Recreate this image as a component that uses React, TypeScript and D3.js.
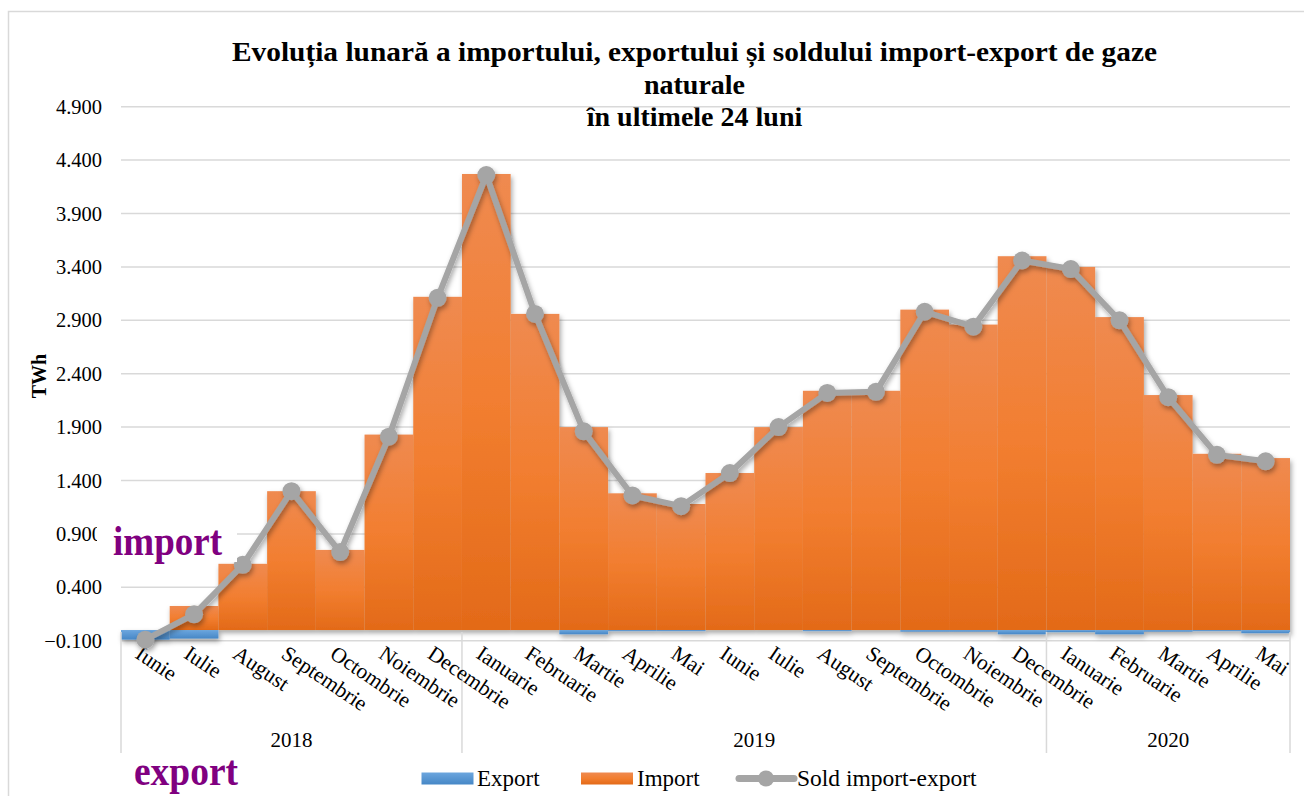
import * as d3 from 'd3';

const width = 1304;
const height = 796;

const months = [
  'Iunie', 'Iulie', 'August', 'Septembrie', 'Octombrie', 'Noiembrie', 'Decembrie',
  'Ianuarie', 'Februarie', 'Martie', 'Aprilie', 'Mai', 'Iunie', 'Iulie', 'August',
  'Septembrie', 'Octombrie', 'Noiembrie', 'Decembrie',
  'Ianuarie', 'Februarie', 'Martie', 'Aprilie', 'Mai',
];
const years = ['2018', '2019', '2020'];
const monthsPerYear = [7, 12, 5];

const importValues = [
  0.0, 0.225, 0.62, 1.3, 0.75, 1.83, 3.12, 4.27, 2.96, 1.9, 1.28, 1.18,
  1.47, 1.9, 2.24, 2.24, 3.0, 2.86, 3.5, 3.4, 2.93, 2.2, 1.65, 1.61,
];
const exportValues = [
  -0.09, -0.08, 0, 0, 0, 0, 0, 0, 0, -0.04, -0.01, -0.01,
  0, 0, -0.01, 0, -0.015, -0.015, -0.04, -0.02, -0.04, -0.015, -0.01, -0.03,
];
const soldValues = [
  -0.09, 0.147, 0.61, 1.3, 0.73, 1.81, 3.11, 4.26, 2.96, 1.86, 1.26, 1.16,
  1.47, 1.9, 2.22, 2.23, 2.98, 2.84, 3.46, 3.38, 2.9, 2.18, 1.64, 1.58,
];
const yTicks = [-0.1, 0.4, 0.9, 1.4, 1.9, 2.4, 2.9, 3.4, 3.9, 4.4, 4.9];

const titleLines = [
  'Evoluția lunară a importului, exportului și soldului import-export de gaze',
  'naturale',
  'în ultimele 24 luni',
];

const plotLeft = 121;
const plotRight = 1290;
const serif = '"Liberation Serif", "Times New Roman", serif';
const fmt = d3.format('.3f');

export default function App() {
  const idx = months.map((_, i) => i);
  const x = d3.scaleBand<number>().domain(idx).range([plotLeft, plotRight]).padding(0);
  const y = d3.scaleLinear([-0.1, 4.9], [640.7, 106.7]);
  const cx = (i: number) => (x(i) ?? 0) + x.bandwidth() / 2;
  const line = d3.line<number>((_, i) => cx(i), (d) => y(d));

  // year group boundaries
  const bounds: number[] = [0];
  monthsPerYear.forEach((n, i) => bounds.push(bounds[i] + n));
  const bx = (k: number) => (k >= months.length ? plotRight : x(k) ?? 0);

  return (
    <svg width={width} height={height} style={{ position: 'absolute', left: 0, top: 0 }} fontFamily={serif}>
      <defs>
        <linearGradient id="imp" x1="0" y1="0" x2="0" y2="1">
          <stop offset="0" stopColor="#EF8A50" />
          <stop offset="0.5" stopColor="#F27E30" />
          <stop offset="1" stopColor="#E36A18" />
        </linearGradient>
        <linearGradient id="exp" x1="0" y1="0" x2="0" y2="1">
          <stop offset="0" stopColor="#6CA6DE" />
          <stop offset="1" stopColor="#4687C6" />
        </linearGradient>
        <filter id="shadow" x="-10%" y="-10%" width="120%" height="130%">
          <feDropShadow dx="1.5" dy="3" stdDeviation="2.5" floodColor="#000" floodOpacity="0.35" />
        </filter>
      </defs>

      <rect x={8.5} y={11.5} width={1320} height={820} fill="#fff" stroke="#d9d9d9" strokeWidth={1.5} />

      {titleLines.map((t, i) => (
        <text
          key={i}
          x={694.5}
          y={61 + i * 32.5}
          textAnchor="middle"
          fontSize={28}
          fontWeight="bold"
          fill="#000"
          textLength={i === 0 ? 925 : undefined}
          lengthAdjust={i === 0 ? 'spacingAndGlyphs' : undefined}
        >
          {t}
        </text>
      ))}

      {/* gridlines */}
      {yTicks.map((t) => (
        <line key={t} x1={plotLeft} x2={plotRight} y1={y(t)} y2={y(t)} stroke="#d9d9d9" strokeWidth={1.5} />
      ))}
      {yTicks.map((t) => (
        <text key={t} x={102} y={y(t)} dy="0.35em" textAnchor="end" fontSize={20.5} fill="#000">
          {fmt(t)}
        </text>
      ))}
      <text
        transform="translate(46,376) rotate(-90)"
        textAnchor="middle"
        fontSize={20}
        fontWeight="bold"
      >
        TWh
      </text>

      {/* bars */}
      <g filter="url(#shadow)">
        {exportValues.map((v, i) => (
          <rect
            key={'e' + i}
            x={x(i)}
            width={x.bandwidth()}
            y={y(0)}
            height={Math.max(0, y(v) - y(0))}
            fill="url(#exp)"
          />
        ))}
        {importValues.map((v, i) => (
          <rect
            key={'i' + i}
            x={x(i)}
            width={x.bandwidth()}
            y={y(v)}
            height={Math.max(0, y(0) - y(v))}
            fill="url(#imp)"
          />
        ))}
      </g>

      {/* category axis */}
      {bounds.map((k) => (
        <line key={k} x1={bx(k)} x2={bx(k)} y1={632} y2={753} stroke="#d9d9d9" strokeWidth={1.5} />
      ))}
      {months.map((m, i) => (
        <text
          key={i}
          transform={`translate(${cx(i) - 2},643) rotate(34)`}
          dy="0.78em"
          fontSize={21.5}
          fill="#000"
        >
          {m}
        </text>
      ))}
      {years.map((yr, k) => (
        <text
          key={yr}
          x={(bx(bounds[k]) + bx(bounds[k + 1])) / 2}
          y={747}
          textAnchor="middle"
          fontSize={21}
        >
          {yr}
        </text>
      ))}

      {/* sold line */}
      <g filter="url(#shadow)">
        <path d={line(soldValues) ?? ''} fill="none" stroke="#A5A5A5" strokeWidth={6} strokeLinejoin="round" />
        {soldValues.map((v, i) => (
          <circle key={i} cx={cx(i)} cy={y(v)} r={9} fill="#A5A5A5" />
        ))}
      </g>

      {/* text boxes */}
      <rect x={97} y={512} width={140} height={50} fill="#fff" />
      <text x={113} y={555} fontSize={42} fontWeight="bold" fill="#800080" textLength={109} lengthAdjust="spacingAndGlyphs">
        import
      </text>
      <text x={134} y={785} fontSize={42} fontWeight="bold" fill="#800080" textLength={104} lengthAdjust="spacingAndGlyphs">
        export
      </text>

      {/* legend */}
      <rect x={421.5} y={772.5} width={52} height={12} fill="url(#exp)" />
      <text x={477} y={786} fontSize={23}>Export</text>
      <rect x={581} y={772.5} width={52} height={12} fill="url(#imp)" />
      <text x={637} y={786} fontSize={23}>Import</text>
      <line x1={739} x2={794} y1={778.5} y2={778.5} stroke="#A5A5A5" strokeWidth={7} strokeLinecap="round" />
      <circle cx={766} cy={778.5} r={8} fill="#A5A5A5" />
      <text x={797} y={786} fontSize={23.5}>Sold import-export</text>
    </svg>
  );
}
